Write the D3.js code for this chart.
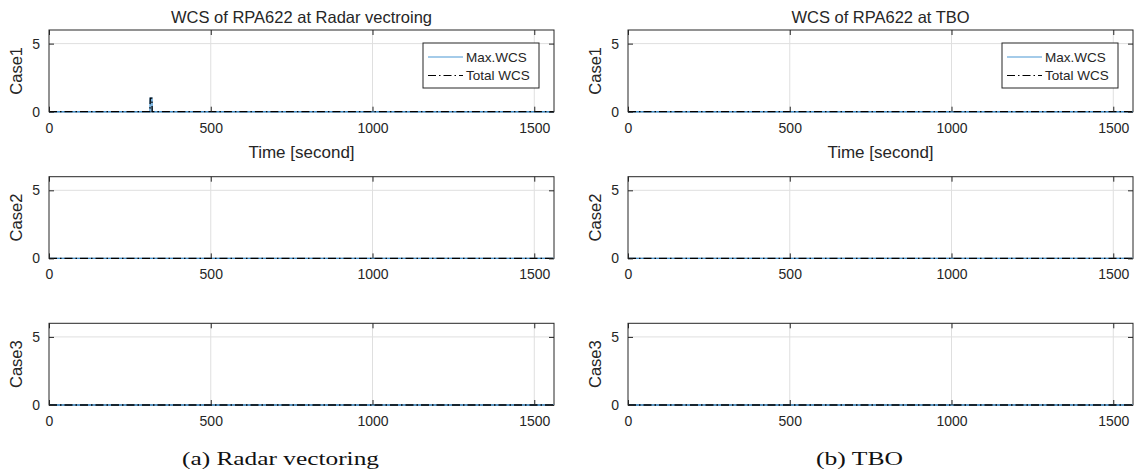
<!DOCTYPE html>
<html>
<head>
<meta charset="utf-8">
<script src="https://cdn.jsdelivr.net/npm/d3@7"></script>
<style>
  body { margin: 0; background: #fff; }
  svg text { fill: #262626; font-family: "Liberation Sans", Arial, sans-serif; }
  .grid line { stroke: #dfdfdf; stroke-width: 1; }
  .caption { font-family: "Liberation Serif", "DejaVu Serif", serif !important; fill: #111 !important; }
</style>
</head>
<body>
<svg id="chart" width="1137" height="474"></svg>
<script>
// data
var timeTicks = [0, 500, 1000, 1500];
var wcsTicks = [0, 5];
var caseNames = ["Case1", "Case2", "Case3"];
var titles = ["WCS of RPA622 at Radar vectroing", "WCS of RPA622 at TBO"];
var captions = ["(a)  Radar vectoring", "(b)  TBO"];
var captionWidths = [197, 87];
var seriesNames = ["Max.WCS", "Total WCS"];

// radar vectoring, case1 has a short bump around t=315 s
var radarCase1Time = [0, 312, 313, 318, 319, 1560];
var radarCase1Max = [0, 0, 1, 1, 0, 0];
var radarCase1Total = [0, 0, 1, 1, 0, 0];
var flatTime = [0, 1560];
var flatMax = [0, 0];
var flatTotal = [0, 0];

var columns = [
    [
        { t: radarCase1Time, max: radarCase1Max, total: radarCase1Total },
        { t: flatTime, max: flatMax, total: flatTotal },
        { t: flatTime, max: flatMax, total: flatTotal }
    ],
    [
        { t: flatTime, max: flatMax, total: flatTotal },
        { t: flatTime, max: flatMax, total: flatTotal },
        { t: flatTime, max: flatMax, total: flatTotal }
    ]
];

var svg = d3.select("#chart");
var colLeft = [49, 628];
var rowTop = [30, 176.7, 323.3];
var w = 505, h = 81.7;
var blue = "#4a97d3";
var dashDot = "8,3,1.5,3";
var axisColor = "#262626";

var x = d3.scaleLinear().domain([0, 1561]).range([0, w]);
var y = d3.scaleLinear().domain([0, 6]).range([h, 0]);

function styleAxis(g) {
    g.select(".domain").remove();
    g.selectAll(".tick line").attr("stroke", axisColor);
    g.selectAll(".tick text").style("font-size", "14px").attr("fill", axisColor);
}

columns.forEach(function (col, c) {
    col.forEach(function (d, r) {
        var g = svg.append("g").attr("transform", "translate(" + colLeft[c] + "," + rowTop[r] + ")");

        // grid
        var grid = g.append("g").attr("class", "grid");
        grid.selectAll("line.v").data(timeTicks.slice(1)).enter().append("line")
            .attr("x1", x).attr("x2", x).attr("y1", 0).attr("y2", h);
        grid.selectAll("line.h").data(wcsTicks.slice(1)).enter().append("line")
            .attr("x1", 0).attr("x2", w).attr("y1", y).attr("y2", y);

        var pts = d.t.map(function (t, i) { return [t, d.max[i], d.total[i]]; });
        var lineMax = d3.line().x(function (p) { return x(p[0]); }).y(function (p) { return y(p[1]); });
        var lineTotal = d3.line().x(function (p) { return x(p[0]); }).y(function (p) { return y(p[2]); });

        // box
        g.append("rect").attr("width", w).attr("height", h)
            .attr("fill", "none").attr("stroke", axisColor).attr("stroke-width", 1);

        g.append("path").attr("d", lineMax(pts)).attr("fill", "none")
            .attr("stroke", blue).attr("stroke-width", 1.4);
        g.append("path").attr("d", lineTotal(pts)).attr("fill", "none")
            .attr("stroke", "#000").attr("stroke-width", 1.3).attr("stroke-dasharray", dashDot);

        // axes (ticks point inward like matlab)
        g.append("g").attr("transform", "translate(0," + h + ")")
            .call(d3.axisBottom(x).tickValues(timeTicks).tickFormat(d3.format("d")).tickSizeInner(-5).tickSizeOuter(0).tickPadding(11))
            .call(styleAxis);
        g.append("g")
            .call(d3.axisTop(x).tickValues(timeTicks).tickSizeInner(-5).tickSizeOuter(0).tickFormat(""))
            .call(styleAxis);
        g.append("g")
            .call(d3.axisLeft(y).tickValues(wcsTicks).tickFormat(d3.format("d")).tickSizeInner(-5).tickSizeOuter(0).tickPadding(9))
            .call(styleAxis);
        g.append("g").attr("transform", "translate(" + w + ",0)")
            .call(d3.axisRight(y).tickValues(wcsTicks).tickSizeInner(-5).tickSizeOuter(0).tickFormat(""))
            .call(styleAxis);

        g.append("text")
            .attr("transform", "translate(-27," + (h / 2) + ") rotate(-90)")
            .attr("text-anchor", "middle")
            .style("font-size", "16.5px")
            .text(caseNames[r]);

        if (r === 0) {
            g.append("text").attr("x", w / 2).attr("y", -7)
                .attr("text-anchor", "middle").style("font-size", "16.5px")
                .text(titles[c]);

            // legend
            var lg = g.append("g").attr("transform", "translate(" + (w - 131) + ",13)");
            lg.append("rect").attr("width", 116).attr("height", 45)
                .attr("fill", "#fff").attr("stroke", axisColor).attr("stroke-width", 1);
            seriesNames.forEach(function (name, i) {
                var yy = 14 + i * 18.5;
                lg.append("line").attr("x1", 5).attr("x2", 40).attr("y1", yy).attr("y2", yy)
                    .attr("stroke", i === 0 ? blue : "#000").attr("stroke-width", 1.2)
                    .attr("stroke-dasharray", i === 0 ? null : dashDot);
                lg.append("text").attr("x", 43).attr("y", yy + 4.5)
                    .style("font-size", "13.5px").text(name);
            });

            g.append("text").attr("x", w / 2).attr("y", h + 46)
                .attr("text-anchor", "middle").style("font-size", "17px")
                .text("Time [second]");
        }
        if (r === 2) {
            g.append("text").attr("class", "caption").attr("x", w / 2 - 21).attr("y", h + 60)
                .attr("text-anchor", "middle").style("font-size", "19px")
                .attr("textLength", captionWidths[c]).attr("lengthAdjust", "spacingAndGlyphs")
                .text(captions[c]);
        }
    });
});
</script>
</body>
</html>
